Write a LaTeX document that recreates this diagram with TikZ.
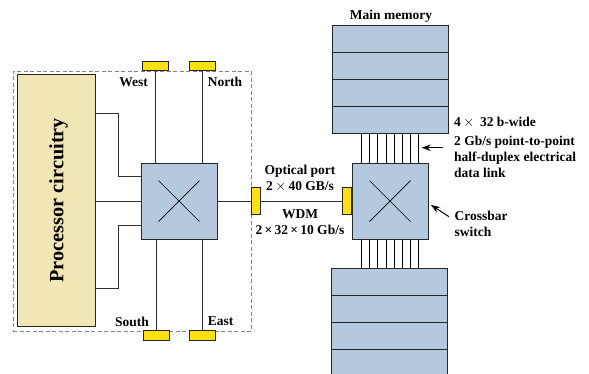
\documentclass[tikz,border=0pt]{standalone}
\usepackage{fontspec}
\setmainfont{Liberation Serif}
\usetikzlibrary{calc,positioning,arrows,arrows.meta}
\definecolor{switchblue}{RGB}{180,201,221}
\definecolor{procsand}{RGB}{243,230,182}
\definecolor{portyellow}{RGB}{255,223,15}
\definecolor{chipgrey}{RGB}{145,128,128}
\tikzset{
>=stealth',
  switchbox/.style={
    rectangle,
    draw=black!85, line width=1pt,
    fill=switchblue,
    inner sep=0pt,
    minimum width=76pt,
    minimum height=76pt},
  memrow/.style={
    rectangle,
    draw=black!85, line width=1pt,
    fill=switchblue,
    inner sep=0pt,
    minimum width=116pt,
    minimum height=27pt},
  porth/.style={
    rectangle,
    draw=black!85, line width=.8pt,
    fill=portyellow,
    inner sep=0pt,
    minimum width=26pt,
    minimum height=9.5pt},
  portv/.style={porth, minimum width=9pt, minimum height=27pt},
  link/.style={draw=black!80, line width=1pt},
  thin link/.style={draw=black, line width=.7pt},
  lbl/.style={font=\bfseries\fontsize{13.5}{16}\selectfont, inner sep=0pt},
  callout/.style={-{Stealth[length=9pt,width=6.5pt]}, line width=1pt},
}

\begin{document}
\begin{tikzpicture}
[x=1pt, y=-1pt, node distance=27pt]
    \useasboundingbox (0,0) rectangle (589,373);

    % chip outline and processor
    \node [draw=chipgrey, dash pattern=on 4pt off 2.5pt, line width=.9pt, inner sep=0pt,
           minimum width=238pt, minimum height=260pt](chip) at (132,201){};
    \node [draw=black!85, line width=1pt, fill=procsand, inner sep=0pt,
           minimum width=78pt, minimum height=251.5pt](proc) at (56.5,200.25){};
    \node [rotate=90, inner sep=0pt, font=\bfseries\fontsize{20.3}{22}\selectfont](lproc) at (58.5,200.25){Processor circuitry};

    % switches
    \node [switchbox](swa) at (179,201){};
    \node [switchbox](swb) at (390,201){};
    \foreach \sw in {swa,swb}{
	\draw[thin link] ($(\sw)+(-20.5,-20.5)$) -- ($(\sw)+(20.5,20.5)$);
	\draw[thin link] ($(\sw)+(-20.5,20.5)$) -- ($(\sw)+(20.5,-20.5)$);
    }

    % ports
    \node [porth](west) at (155.5,66){};
    \node [porth](north) at (202,66){};
    \node [porth](south) at (156,335.5){};
    \node [porth](east) at (202,335.5){};
    \node [portv](opta) at (255.5,200.5){};
    \node [portv](optb) at (346.5,200.5){};

    % main memory
    \node [memrow](mta) at (390,38.5){};
    \node [memrow, below of=mta](mtb){};
    \node [memrow, below of=mtb](mtc){};
    \node [memrow, below of=mtc](mtd){};
    \node [memrow](mba) at (389,281.5){};
    \node [memrow, below of=mba](mbb){};
    \node [memrow, below of=mbb](mbc){};
    \node [memrow, below of=mbc](mbd){};

    % links
    \draw[link] (west.south) -- (west.south |- swa.north);
    \draw[link] (north.south) -- (north.south |- swa.north);
    \draw[link] (south.north) -- (south.north |- swa.south);
    \draw[link] (east.north) -- (east.north |- swa.south);
    \draw[link] (proc.east |- swa.center) -- (swa.west);
    \draw[link] (swa.east) -- (opta.west |- swa.center);
    \draw[link] (opta.east |- swa.center) -- (optb.west |- swa.center);
    \coordinate (proca) at (proc.east |- 0,113);
    \coordinate (procb) at (proc.east |- 0,288.5);
    \coordinate (swaa) at (swa.west |- 0,176);
    \coordinate (swab) at (swa.west |- 0,225.5);
    \draw[link] (proca) -- ++(22,0) |- (swaa);
    \draw[link] (procb) -- ++(22.5,0) |- (swab);
    \foreach \x in {361,369.3,377.7,386,394,402.3,410.7,418.7}{
	\draw[thin link] (\x,0 |- mtd.south) -- (\x,0 |- swb.north);
	\draw[thin link] (\x,0 |- swb.south) -- (\x,0 |- mba.north);
    }

    % labels
    \node [lbl](lwest) at (133.5,82){West};
    \node [lbl](lnorth) at (225,82){North};
    \node [lbl](lsouth) at (132,321.5){South};
    \node [lbl](least) at (220.5,321.5){East};
    \node [lbl](lmem) at (391,16){Main memory};
    \node [lbl, align=center](lopt) at (300,178){Optical port\\2\,$\times$\,40 GB/s};
    \node [lbl, align=center](lwdm) at (300,222){WDM\\2\,×\,32\,×\,10 Gb/s};
    \node [lbl, anchor=west](lwide) at (454,122){4\,$\times$\, 32 b-wide};
    \node [lbl, anchor=west, align=left](llink) at (454,157){2 Gb/s point-to-point\\half-duplex electrical\\data link};
    \node [lbl, anchor=west, align=left](lcross) at (454.5,224){Crossbar\\switch};

    % callouts
    \coordinate (clink) at (443,147.7);
    \coordinate (clinkend) at (421.7,147.7);
    \coordinate (ccross) at (449,216.7);
    \coordinate (ccrossend) at (431,205);
    \draw[callout] (clink) -- (clinkend);
    \draw[callout] (ccross) -- (ccrossend);
\end{tikzpicture}
\end{document}
